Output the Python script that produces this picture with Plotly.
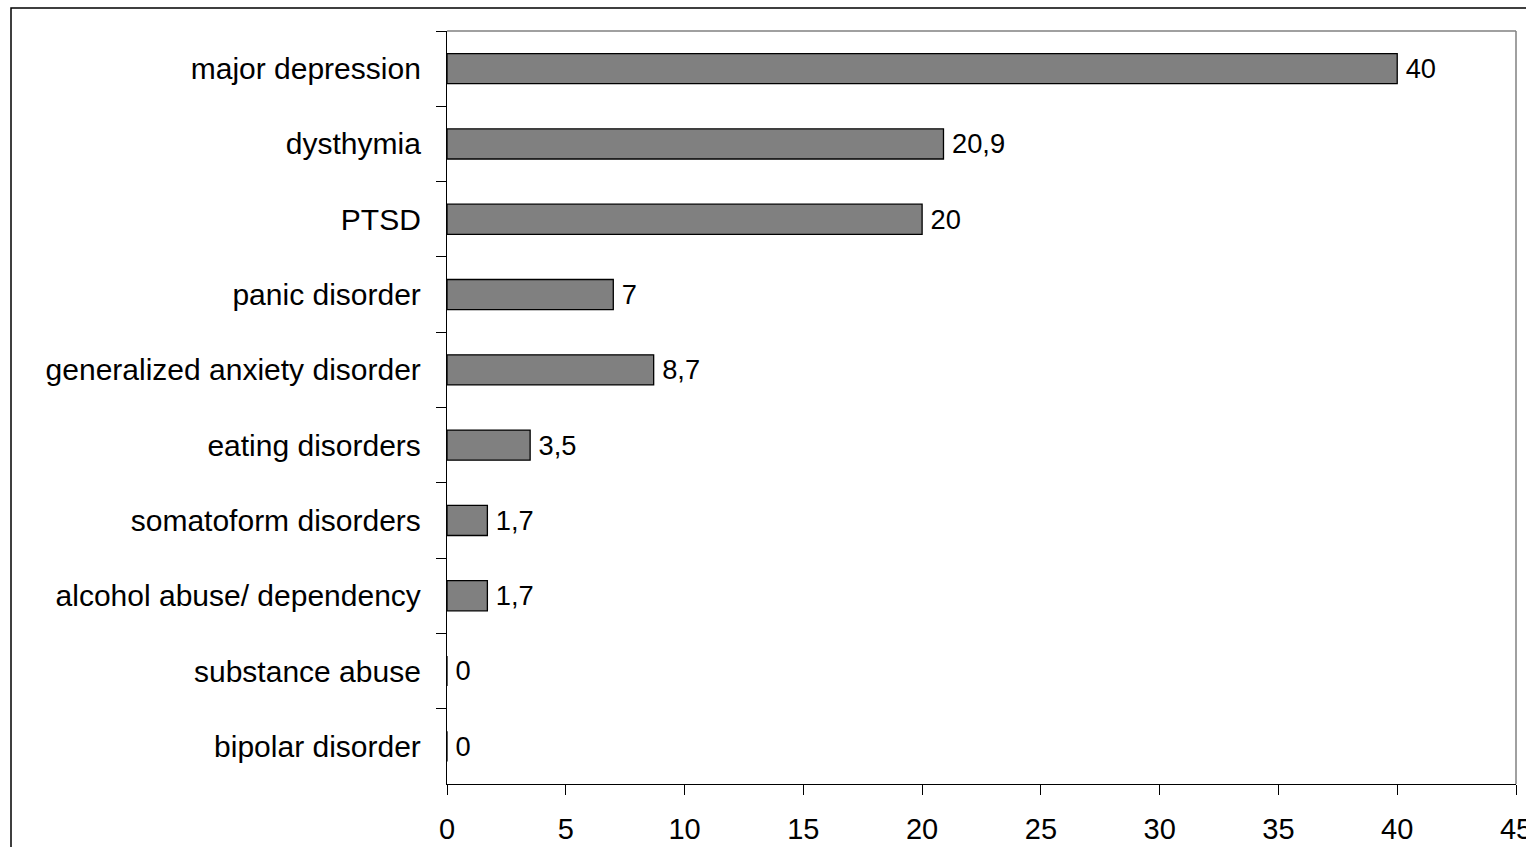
import plotly.graph_objects as go

categories = ["major depression", "dysthymia", "PTSD", "panic disorder",
              "generalized anxiety disorder", "eating disorders",
              "somatoform disorders", "alcohol abuse/ dependency",
              "substance abuse", "bipolar disorder"]
values = [40, 20.9, 20, 7, 8.7, 3.5, 1.7, 1.7, 0, 0]
x_ticks = [0, 5, 10, 15, 20, 25, 30, 35, 40, 45]

labels = ["\u2009" + ("%g" % v).replace(".", ",") for v in values]

FONT = "Liberation Sans, Arial, sans-serif"
FS = 30
FS_TICK = 29

L, R, T, B = 447, 10, 31, 63
PW, PH = 1526 - L - R, 847 - T - B

fig = go.Figure(go.Bar(
    y=categories, x=values, orientation="h",
    marker=dict(color="#808080", line=dict(color="black", width=1.3)),
    text=labels, textposition="outside", cliponaxis=False,
    textfont=dict(family=FONT, size=FS_TICK, color="black"),
    width=0.4,
))

fig.update_layout(
    width=1526, height=847,
    margin=dict(l=L, r=R, t=T, b=B, autoexpand=False),
    paper_bgcolor="white", plot_bgcolor="white",
    font=dict(family=FONT, size=FS, color="black"),
    showlegend=False,
    xaxis=dict(range=[0, 45], tickvals=x_ticks, showgrid=False, zeroline=False,
               showline=True, linecolor="black", linewidth=1.3,
               ticks="outside", ticklen=10, tickcolor="black", tickwidth=1,
               ticklabeloverflow="allow", automargin=False,
               ticklabelstandoff=9, tickfont=dict(size=FS_TICK)),
    yaxis=dict(autorange="reversed", showgrid=False, zeroline=False,
               showline=True, linecolor="black", linewidth=1.3,
               ticks="outside", ticklen=10, tickcolor="black", tickwidth=1,
               tickson="boundaries", ticklabelstandoff=19, automargin=False,
               tickfont=dict(size=FS)),
    shapes=[
        dict(type="line", xref="paper", yref="paper", x0=0, x1=1, y0=1, y1=1,
             line=dict(color="#808080", width=1.5)),
        dict(type="line", xref="paper", yref="paper", x0=1, x1=1, y0=0, y1=1,
             line=dict(color="#808080", width=1.5)),
        dict(type="rect", xref="paper", yref="paper",
             x0=(11 - L) / PW, x1=1.05, y0=-0.2, y1=(847 - B - 8) / PH,
             line=dict(color="black", width=1.5), fillcolor="rgba(0,0,0,0)"),
    ],
)

fig.write_html("out.html")
